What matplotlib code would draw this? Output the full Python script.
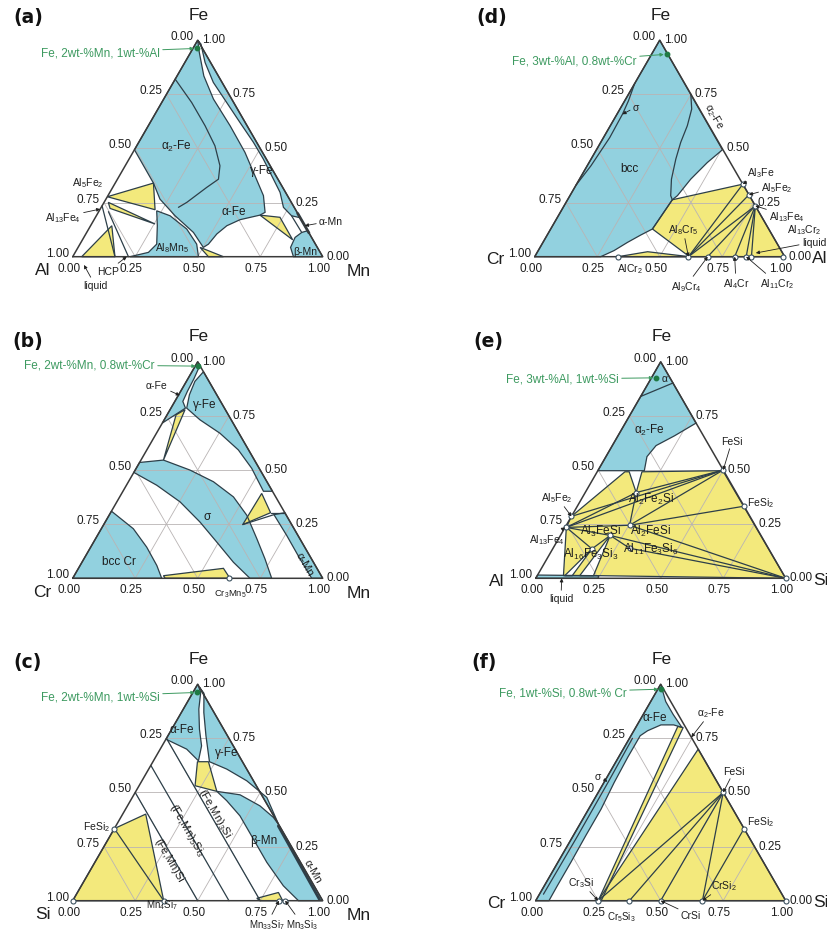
import numpy as np
import matplotlib
matplotlib.use("Agg")
import matplotlib.pyplot as plt
from matplotlib.patches import Polygon

plt.rcParams['font.family'] = ['Liberation Sans', 'DejaVu Sans']
plt.rcParams['mathtext.fontset'] = 'custom'
plt.rcParams['mathtext.rm'] = 'Liberation Sans'
plt.rcParams['mathtext.it'] = 'Liberation Sans:italic'
plt.rcParams['mathtext.bf'] = 'Liberation Sans:bold'

# ======================= DATA =======================
# every composition is (fraction of bottom-right element, fraction of Fe)
TICKS = [0.0, 0.25, 0.5, 0.75, 1.0]

# ---- (a) Al - Mn - Fe ----
A_ALPHA_FE = [(0, 1), (0.035, 0.943), (0.107, 0.835), (0.199, 0.728), (0.327, 0.605), (0.448, 0.482),
              (0.542, 0.374), (0.622, 0.282), (0.667, 0.205), (0.653, 0.192), (0.584, 0.171), (0.545, 0.143),
              (0.524, 0.105), (0.514, 0.058), (0.501, 0.043), (0.427, 0.112), (0.315, 0.189), (0.216, 0.266),
              (0.153, 0.34), (0, 0.494)]
A_GAMMA_FE = [(0, 1), (0.022, 0.982), (0.081, 0.897), (0.16, 0.805), (0.26, 0.712), (0.359, 0.62),
              (0.459, 0.528), (0.537, 0.451), (0.624, 0.358), (0.681, 0.297), (0.729, 0.228), (0.781, 0.189),
              (0.82, 0.18)]
A_AL8MN5 = [(0.23, 0.212), (0.295, 0.189), (0.392, 0.128), (0.467, 0.058), (0.503, 0), (0.229, 0),
            (0.293, 0.02), (0.307, 0.058), (0.267, 0.143)]
A_BETA_MN = [(0.88, 0.12), (1, 0), (0.883, 0), (0.85, 0.043), (0.845, 0.089), (0.86, 0.112)]
A_YELLOW = [
    [(0, 0.277), (0.153, 0.34), (0.221, 0.217)],
    [(0.017, 0.251), (0.254, 0.151), (0.038, 0.223)],
    [(0.036, 0), (0.085, 0.143), (0.169, 0)],
    [(0.488, 0.043), (0.603, 0), (0.543, 0)],
    [(0.653, 0.192), (0.738, 0.182), (0.841, 0.078)],
]
A_LINES = [
    [(0, 0.82), (0.12, 0.712), (0.227, 0.605), (0.313, 0.512), (0.379, 0.42), (0.404, 0.358),
     (0.376, 0.32), (0.331, 0.251), (0.309, 0.228)],
    [(0, 0.235), (0.169, 0)],
    [(0.039, 0.208), (0.223, 0)],
    [(0.781, 0.189), (0.86, 0.112)],
]
A_THICK = [[(0.8, 0.2), (0.89, 0.11)]]
A_DOT = (0.015, 0.962)

# ---- (b) Cr - Mn - Fe ----
B_ALPHA_FE = [(0, 1), (0.017, 0.985), (0.024, 0.923), (0.027, 0.864), (0.032, 0.817), (0.058, 0.786), (0, 0.717)]
B_GAMMA_FE = [(0.046, 0.954), (0.034, 0.91), (0.043, 0.848), (0.063, 0.786), (0.143, 0.732), (0.254, 0.67),
              (0.366, 0.593), (0.462, 0.508), (0.562, 0.402), (0.598, 0.402)]
B_ALPHA_MN = [(0.658, 0.294), (0.697, 0.303), (1, 0), (0.956, 0), (0.864, 0.09), (0.757, 0.198)]
B_SIGMA = [(0, 0.535), (0.09, 0.546), (0.219, 0.5), (0.34, 0.446), (0.455, 0.376), (0.551, 0.291),
           (0.645, 0.183), (0.724, 0.09), (0.796, 0), (0.709, 0), (0.606, 0.074), (0.493, 0.167),
           (0.379, 0.26), (0.253, 0.353), (0.121, 0.43), (0, 0.489)]
B_BCC_CR = [(0, 0.31), (0.128, 0.229), (0.224, 0.144), (0.307, 0.059), (0.356, 0), (0, 0)]
B_YELLOW = [
    [(0.06, 0.779), (0.036, 0.755), (0.09, 0.546)],
    [(0.56, 0.392), (0.64, 0.303), (0.556, 0.248)],
    [(0.357, 0.012), (0.58, 0.046), (0.629, 0), (0.37, 0)],
]
B_LINES = [[(0.556, 0.248), (0.658, 0.294)], [(0.64, 0.303), (0.697, 0.303)]]
B_MARKS = [(0.625, 0)]
B_DOT = (0.013, 0.98)

# ---- (c) Si - Mn - Fe ----
C_ALPHA_FE = [(0, 1), (0.031, 0.962), (0.062, 0.885), (0.111, 0.792), (0.158, 0.715), (0.18, 0.646),
              (0.106, 0.7), (0, 0.746)]
C_GAMMA_FE = [(0.015, 0.985), (0.046, 0.958), (0.09, 0.869), (0.152, 0.762), (0.226, 0.642), (0.312, 0.608),
              (0.419, 0.554), (0.538, 0.477), (0.646, 0.354)]
C_BETA_MN = [(0.324, 0.505), (0.425, 0.489), (0.53, 0.438), (0.61, 0.385), (0.651, 0.349), (1, 0),
             (0.903, 0), (0.808, 0.069), (0.688, 0.177), (0.58, 0.285), (0.473, 0.392), (0.385, 0.462)]
C_YELLOW = [
    [(0.178, 0.642), (0.222, 0.642), (0.324, 0.505), (0.224, 0.531)],
    [(0, 0), (0, 0.333), (0.092, 0.4), (0.364, 0)],
    [(0.731, 0.011), (0.804, 0.038), (0.84, 0), (0.749, 0)],
]
C_SI_LEVELS = [0.5, 0.375, 0.25]          # (Fe,Mn)Si, (Fe,Mn)5Si3, (Fe,Mn)3Si
C_LINES = [[(0, 0.333), (0.364, 0)]]
C_THICK = [[(0.65, 0.345), (0.985, 0.005)]]
C_MARKS = [(0, 0.333), (0.364, 0), (0, 0), (0.825, 0), (0.85, 0)]
C_DOT = (0.018, 0.962)

# ---- (d) Cr - Al - Fe ----
D_BCC = [(0, 1), (0.504, 0.494), (0.473, 0.435), (0.445, 0.358), (0.43, 0.282), (0.419, 0.263),
         (0.407, 0.128), (0.374, 0.1), (0.338, 0.066), (0.303, 0.028), (0.264, 0), (0, 0)]
D_YELLOW = [
    [(0.419, 0.263), (0.665, 0.335), (1, 0), (0.619, 0), (0.407, 0.128)],
    [(0.333, 0), (0.44, 0.023), (0.619, 0)],
]
D_SIGMA_LINE = [(0.0, 0.8), (0.015, 0.72), (0.022, 0.658), (0.025, 0.55), (0.015, 0.42), (0.0, 0.33)]
D_A2_LINE = [(0.249, 0.751), (0.287, 0.682), (0.308, 0.605), (0.32, 0.528), (0.339, 0.451),
             (0.368, 0.358), (0.403, 0.282), (0.419, 0.263)]
D_FE_PHASES = {'Al3Fe': 0.335, 'Al5Fe2': 0.286, 'Al13Fe4': 0.235}     # Fe fraction on Al-Fe side
D_CR_PHASES = {'AlCr2': 0.333, 'Al8Cr5': 0.615, 'Al9Cr4': 0.692, 'Al4Cr': 0.8,
               'Al11Cr2': 0.846, 'Al13Cr2': 0.867, 'liq': 0.995}     # Al fraction on Cr-Al side
D_TIES = [('Al3Fe', 'Al8Cr5'), ('Al5Fe2', 'Al8Cr5'), ('Al13Fe4', 'Al8Cr5'), ('Al13Fe4', 'Al9Cr4'),
          ('Al13Fe4', 'Al4Cr'), ('Al13Fe4', 'Al11Cr2'), ('Al13Fe4', 'Al13Cr2')]
D_DOT = (0.06, 0.935)

# ---- (e) Al - Si - Fe ----
E_ALPHA2 = [(0, 1), (0, 0.497), (0.186, 0.497), (0.164, 0.562), (0.175, 0.613), (0.226, 0.658), (0.283, 0.717)]
E_LIQUID = [(0, 0), (0, 0.015), (0.245, 0.012), (0.25, 0)]
E_YELLOW = [(0.111, 0.492), (0.128, 0.492), (0.204, 0.396), (0.179, 0.492), (0.5, 0.497), (1, 0),
            (0.255, 0.012), (0.105, 0.012), (0.005, 0.235), (0, 0.286)]
E_WHITE = [[(0.11, 0.012), (0.157, 0.136), (0.14, 0.012)],
           [(0.17, 0.012), (0.199, 0.198), (0.225, 0.012)]]
E_PTS = {'Al5Fe2': (0, 0.286), 'Al13Fe4': (0.005, 0.235), 'FeSi': (0.5, 0.5), 'FeSi2': (0.667, 0.333),
         'Al2Fe2Si': (0.204, 0.396), 'Al3FeSi': (0.199, 0.198), 'Al2FeSi': (0.253, 0.245),
         'Al11Fe3Si6': (0.306, 0.139), 'Al16Fe3Si3': (0.157, 0.136), 'Si': (1, 0)}
E_TIES = [('Al5Fe2', 'FeSi'), ('Al13Fe4', 'FeSi'), ('Al13Fe4', 'Al2Fe2Si'), ('Al2Fe2Si', 'FeSi'),
          ('Al2Fe2Si', 'Al2FeSi'), ('Al2FeSi', 'FeSi'), ('Al2FeSi', 'FeSi2'), ('Al2FeSi', 'Si'),
          ('Al13Fe4', 'Al2FeSi'), ('Al13Fe4', 'Al3FeSi'), ('Al3FeSi', 'Si'), ('Al3FeSi', 'Al11Fe3Si6'),
          ('Al11Fe3Si6', 'Si'), ('Al13Fe4', 'Al16Fe3Si3'), ('Al16Fe3Si3', 'Al3FeSi')]
E_LINES = [[(0, 0.84), (0.098, 0.902)]]
E_DOT = (0.018, 0.926)

# ---- (f) Cr - Si - Fe ----
F_BLUE = [(0, 1), (0.06, 0.92), (0.12, 0.86), (0.185, 0.8), (0.146, 0.812), (0.095, 0.812), (0.055, 0.785),
          (0.037, 0.762), (0.037, 0.662), (0.041, 0.546), (0.05, 0.423), (0.05, 0.3), (0.052, 0.177),
          (0.052, 0.069), (0.053, 0), (0, 0)]
F_YELLOW = [[(0.166, 0.805), (0.19, 0.8), (0.262, 0), (0.25, 0)],
            [(0.3, 0.7), (1, 0), (0.25, 0)]]
F_SIGMA_LINE = [(0.012, 0.75), (0.016, 0.55), (0.018, 0.3), (0.016, 0.03)]
F_PTS = {'FeSi': (0.5, 0.5), 'FeSi2': (0.667, 0.333), 'Cr3Si': (0.25, 0), 'Cr5Si3': (0.375, 0),
         'CrSi': (0.5, 0), 'CrSi2': (0.667, 0), 'Si': (1, 0)}
F_TIES = [('FeSi', 'Cr3Si'), ('FeSi', 'Cr5Si3'), ('FeSi', 'CrSi'), ('FeSi', 'CrSi2'), ('FeSi2', 'CrSi2')]
F_DOT = (0.013, 0.977)

# ======================= STYLE / LAYOUT =======================
W, H = 828, 937
SIDE = 250.0
R3 = np.sqrt(3) / 2
BLUE = '#92d1df'
YELLOW = '#f3e97c'
EDGE = '#2d3f49'
GRIDC = '#b9b4b4'
GREEN = '#3d9a60'
TXT = '#1e1e1e'

fig = plt.figure(figsize=(W / 100, H / 100), dpi=100)


def tern(b, f):
    return b + 0.5 * f, R3 * f


def make_panel(Lx, By):
    x0 = max(Lx - 75, 0)
    x1 = min(Lx + SIDE + 95, W)
    y0 = max(By - SIDE * R3 - 50, 0)
    y1 = By + 45
    ax = fig.add_axes([x0 / W, 1 - y1 / H, (x1 - x0) / W, (y1 - y0) / H])
    ax.set_xlim((x0 - Lx) / SIDE, (x1 - Lx) / SIDE)
    ax.set_ylim((By - y1) / SIDE, (By - y0) / SIDE)
    ax.axis('off')
    ax.org = (Lx, By)
    return ax


def pix(ax, px, py):
    Lx, By = ax.org
    return (px - Lx) / SIDE, (By - py) / SIDE


def fill(ax, pts, color):
    xy = [tern(b, f) for b, f in pts]
    ax.add_patch(Polygon(xy, closed=True, facecolor=color, edgecolor='none', zorder=1))
    ax.add_patch(Polygon(xy, closed=True, facecolor='none', edgecolor=EDGE, lw=0.9, zorder=4))


def line(ax, pts, lw=0.9, color=EDGE, z=4):
    xs, ys = zip(*[tern(b, f) for b, f in pts])
    ax.plot(xs, ys, color=color, lw=lw, zorder=z, solid_capstyle='round')


def marks(ax, pts):
    for b, f in pts:
        x, y = tern(b, f)
        ax.plot(x, y, 'o', ms=3.6, mfc='white', mec='#3c5260', mew=0.8, zorder=7)


def frame(ax, names, left_off, right_off):
    Lx, By = ax.org
    for v in (0.25, 0.5, 0.75):
        for p, q in [((0, v), (1 - v, v)), ((v, 0), (v, 1 - v)), ((1 - v, 0), (0, 1 - v))]:
            line(ax, [p, q], lw=0.6, color=GRIDC, z=3)
    line(ax, [(0, 0), (1, 0), (0, 1), (0, 0)], lw=1.1, color='#3a3a3a', z=5)
    d = 1 / SIDE
    for v in TICKS:
        s = f"{v:.2f}"
        x, y = tern(v, 0)
        ax.text(x - 4 * d, y - 5 * d, s, ha='center', va='top', fontsize=8.5, color=TXT)
        x, y = tern(1 - v, v)
        ax.text(x + 4 * d, y + 1 * d, s, ha='left', va='center', fontsize=8.5, color=TXT)
        x, y = tern(0, 1 - v)
        ax.text(x - 4 * d, y + 4 * d, s, ha='right', va='center', fontsize=8.5, color=TXT)
    left, right = names
    ax.text(*pix(ax, Lx + left_off[0], By + left_off[1]), left, ha='center', va='center', fontsize=12.5, color=TXT)
    ax.text(*pix(ax, Lx + SIDE + right_off[0], By + right_off[1]), right, ha='center', va='center',
            fontsize=12.5, color=TXT)
    ax.text(*pix(ax, Lx + SIDE / 2 + 1, By - SIDE * R3 - 26), 'Fe', ha='center', va='center',
            fontsize=12.5, color=TXT)


def lab(ax, s, b, f, size=8.5, rot=0):
    ax.text(*tern(b, f), s, ha='center', va='center', fontsize=size, color=TXT, rotation=rot,
            rotation_mode='anchor', zorder=8)


def note(ax, s, pxy, tip=None, size=7.5, ha='center', rot=0):
    xy = pix(ax, *pxy)
    if tip is None:
        ax.text(*xy, s, ha=ha, va='center', fontsize=size, color=TXT, rotation=rot, zorder=8)
        return
    t = tern(tip[1], tip[2]) if tip[0] == 't' else pix(ax, tip[1], tip[2])
    ax.annotate(s, xy=t, xytext=xy, ha=ha, va='center', fontsize=size, color=TXT, zorder=8,
                annotation_clip=False,
                arrowprops=dict(arrowstyle='-|>', lw=0.6, color='#202020', mutation_scale=5,
                                shrinkA=0, shrinkB=0))


def green(ax, s, end_px, dot):
    xy = pix(ax, *end_px)
    t = tern(*dot)
    ax.annotate(s, xy=t, xytext=xy, ha='right', va='center', fontsize=8.5, color=GREEN, zorder=9,
                annotation_clip=False,
                arrowprops=dict(arrowstyle='-|>', lw=0.7, color=GREEN, mutation_scale=5,
                                shrinkA=0, shrinkB=2))
    ax.plot(*t, 'o', ms=3.2, color='#1f7a44', zorder=10)


LEFT_COL = ((-30, 13), (36, 14))
RIGHT_COL = ((-39, 2), (35, 1))

# ------------------ (a) ------------------
ax = make_panel(72.7, 257.7)
fill(ax, A_ALPHA_FE, BLUE)
fill(ax, A_GAMMA_FE, BLUE)
fill(ax, A_AL8MN5, BLUE)
fill(ax, A_BETA_MN, BLUE)
for p in A_YELLOW:
    fill(ax, p, YELLOW)
for l in A_LINES:
    line(ax, l)
for l in A_THICK:
    line(ax, l, lw=2.0)
frame(ax, ('Al', 'Mn'), *LEFT_COL)
lab(ax, 'α$_2$-Fe', 0.16, 0.512)
lab(ax, 'γ-Fe', 0.555, 0.402)
lab(ax, 'α-Fe', 0.538, 0.209)
lab(ax, 'Al$_8$Mn$_5$', 0.374, 0.043, size=7.5)
lab(ax, 'β-Mn', 0.917, 0.025, size=7.5)
note(ax, 'Al$_5$Fe$_2$', (88, 183))
note(ax, 'Al$_{13}$Fe$_4$', (63, 218), ('t', 0.0, 0.22))
note(ax, 'α-Mn', (331, 222), ('t', 0.857, 0.143))
note(ax, 'HCP', (108, 272), ('t', 0.216, 0.0))
note(ax, 'liquid', (95, 286), ('p', 84, 266))
green(ax, 'Fe, 2wt-%Mn, 1wt-%Al', (160, 53), A_DOT)

# ------------------ (b) ------------------
ax = make_panel(72.7, 579.3)
for p in (B_ALPHA_FE, B_GAMMA_FE, B_ALPHA_MN, B_SIGMA, B_BCC_CR):
    fill(ax, p, BLUE)
for p in B_YELLOW:
    fill(ax, p, YELLOW)
for l in B_LINES:
    line(ax, l)
frame(ax, ('Cr', 'Mn'), *LEFT_COL)
marks(ax, B_MARKS)
lab(ax, 'γ-Fe', 0.127, 0.805)
lab(ax, 'σ', 0.392, 0.288)
lab(ax, 'bcc Cr', 0.142, 0.082)
lab(ax, 'α-Mn', 0.893, 0.067, size=8, rot=-60)
note(ax, 'α-Fe', (157, 386), ('t', 0.006, 0.845))
note(ax, 'Cr$_3$Mn$_5$', (230, 594), size=6.8)
green(ax, 'Fe, 2wt-%Mn, 0.8wt-%Cr', (155, 366), B_DOT)

# ------------------ (c) ------------------
ax = make_panel(72.7, 901.7)
fill(ax, C_ALPHA_FE, BLUE)
fill(ax, C_GAMMA_FE, BLUE)
fill(ax, C_BETA_MN, BLUE)
for p in C_YELLOW:
    fill(ax, p, YELLOW)
for s in C_SI_LEVELS:
    line(ax, [(0, 1 - s), (1 - s, 0)])
for l in C_LINES:
    line(ax, l)
for l in C_THICK:
    line(ax, l, lw=2.0)
frame(ax, ('Si', 'Mn'), *LEFT_COL)
marks(ax, C_MARKS)
lab(ax, 'α-Fe', 0.04, 0.792)
lab(ax, 'γ-Fe', 0.272, 0.688)
lab(ax, 'β-Mn', 0.622, 0.282)
lab(ax, 'α-Mn', 0.89, 0.138, size=8, rot=-60)
lab(ax, '(Fe,Mn)Si', 0.287, 0.192, size=8, rot=-60)
lab(ax, '(Fe,Mn)$_5$Si$_3$', 0.29, 0.331, size=8, rot=-60)
lab(ax, '(Fe,Mn)$_3$Si', 0.365, 0.408, size=8, rot=-60)
note(ax, 'FeSi$_2$', (97, 827))
note(ax, 'Mn$_4$Si$_7$', (162, 905), size=7)
note(ax, 'Mn$_{33}$Si$_7$', (267, 925), ('t', 0.825, 0.0), size=7)
note(ax, 'Mn$_3$Si$_3$', (302, 925), ('t', 0.85, 0.0), size=7)
green(ax, 'Fe, 2wt-%Mn, 1wt-%Si', (160, 697), C_DOT)

# ------------------ (d) ------------------
ax = make_panel(534.7, 257.7)
fill(ax, D_BCC, BLUE)
for p in D_YELLOW:
    fill(ax, p, YELLOW)
line(ax, D_SIGMA_LINE)
line(ax, D_A2_LINE)
fe_pts = {k: (1 - v, v) for k, v in D_FE_PHASES.items()}
cr_pts = {k: (v, 0) for k, v in D_CR_PHASES.items()}
for a_, b_ in D_TIES:
    line(ax, [fe_pts[a_], cr_pts[b_]])
frame(ax, ('Cr', 'Al'), *RIGHT_COL)
marks(ax, list(fe_pts.values()) + list(cr_pts.values()))
lab(ax, 'bcc', 0.173, 0.408)
note(ax, 'Al$_8$Cr$_5$', (683, 230), ('t', 0.615, 0.0))
note(ax, 'σ', (636, 108), ('t', 0.022, 0.658))
note(ax, 'α$_2$-Fe', (714, 117), size=7.5, rot=-60)
note(ax, 'Al$_3$Fe', (761, 173), ('t', 0.665, 0.335))
note(ax, 'Al$_5$Fe$_2$', (777, 188), ('t', 0.714, 0.286))
note(ax, 'Al$_{13}$Fe$_4$', (787, 217), ('t', 0.765, 0.235))
note(ax, 'Al$_{13}$Cr$_2$', (804, 230))
note(ax, 'liquid', (814, 243), ('t', 0.876, 0.017))
note(ax, 'AlCr$_2$', (630, 269))
note(ax, 'Al$_9$Cr$_4$', (686, 287), ('t', 0.692, 0.0))
note(ax, 'Al$_4$Cr', (736, 284), ('t', 0.8, 0.0))
note(ax, 'Al$_{11}$Cr$_2$', (777, 284), ('t', 0.846, 0.0))
green(ax, 'Fe, 3wt-%Al, 0.8wt-%Cr', (637, 62), D_DOT)

# ------------------ (e) ------------------
ax = make_panel(535.7, 579.3)
fill(ax, E_ALPHA2, BLUE)
fill(ax, E_LIQUID, BLUE)
fill(ax, E_YELLOW, YELLOW)
for p in E_WHITE:
    fill(ax, p, 'white')
for a_, b_ in E_TIES:
    line(ax, [E_PTS[a_], E_PTS[b_]])
for l in E_LINES:
    line(ax, l)
frame(ax, ('Al', 'Si'), *RIGHT_COL)
marks(ax, list(E_PTS.values()))
lab(ax, 'α', 0.053, 0.923, size=7.5)
lab(ax, 'α$_2$-Fe', 0.112, 0.686)
lab(ax, 'Al$_2$Fe$_2$Si', 0.277, 0.368)
lab(ax, 'Al$_3$FeSi', 0.15, 0.221)
lab(ax, 'Al$_2$FeSi', 0.35, 0.221)
lab(ax, 'Al$_{16}$Fe$_3$Si$_3$', 0.164, 0.113)
lab(ax, 'Al$_{11}$Fe$_3$Si$_6$', 0.393, 0.136)
note(ax, 'FeSi', (732, 442), ('t', 0.5, 0.5))
note(ax, 'FeSi$_2$', (761, 503))
note(ax, 'Al$_5$Fe$_2$', (557, 498), ('t', 0.0, 0.286))
note(ax, 'Al$_{13}$Fe$_4$', (547, 540), ('t', 0.0, 0.235))
note(ax, 'liquid', (561, 599), ('t', 0.104, 0.0))
green(ax, 'Fe, 3wt-%Al, 1wt-%Si', (619, 380), E_DOT)

# ------------------ (f) ------------------
ax = make_panel(535.7, 901.7)
fill(ax, F_BLUE, BLUE)
for p in F_YELLOW:
    fill(ax, p, YELLOW)
line(ax, F_SIGMA_LINE)
for a_, b_ in F_TIES:
    line(ax, [F_PTS[a_], F_PTS[b_]])
frame(ax, ('Cr', 'Si'), *RIGHT_COL)
marks(ax, list(F_PTS.values()))
lab(ax, 'α-Fe', 0.05, 0.849)
note(ax, 'α$_2$-Fe', (711, 713), ('t', 0.245, 0.755))
note(ax, 'σ', (598, 777), ('t', 0.012, 0.55))
note(ax, 'FeSi', (734, 772), ('t', 0.5, 0.5))
note(ax, 'FeSi$_2$', (761, 822))
note(ax, 'CrSi$_2$', (724, 886), ('t', 0.667, 0.0))
note(ax, 'Cr$_3$Si', (581, 883), ('t', 0.25, 0.0))
note(ax, 'Cr$_5$Si$_3$', (621, 917), size=7)
note(ax, 'CrSi', (691, 916), ('t', 0.5, 0.0))
green(ax, 'Fe, 1wt-%Si, 0.8wt-% Cr', (627, 693), F_DOT)

# ------------------ panel letters ------------------
for s, (px, py) in {'(a)': (28, 18), '(b)': (28, 342), '(c)': (28, 663),
                    '(d)': (492, 18), '(e)': (488, 342), '(f)': (484, 663)}.items():
    fig.text(px / W, 1 - py / H, s, ha='center', va='center', fontsize=13.5, fontweight='bold',
             family='DejaVu Sans', color='#111111')

fig.savefig('out.png', dpi=100, facecolor='white')
